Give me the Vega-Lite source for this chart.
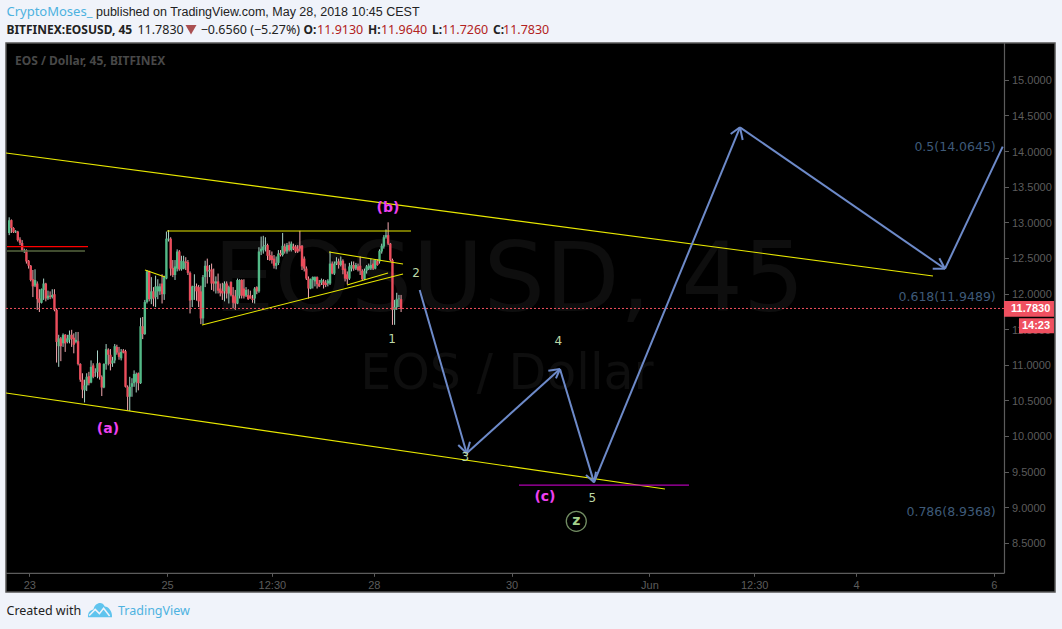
{"$schema":"https://vega.github.io/schema/vega-lite/v6.json","width":1049,"height":549,"autosize":"none","padding":{"left":6,"top":43,"right":7,"bottom":37},"background":"#f0f3fa","view":{"fill":"#000000","stroke":"#555555","strokeWidth":1.5},
"datasets":{"candles":[
{"d":22.708,"o":12.85,"h":13.07,"l":12.82,"c":13.03},{"d":22.74,"o":13.03,"h":13.04,"l":12.85,"c":12.92},{"d":22.771,"o":12.92,"h":12.93,"l":12.85,"c":12.86},{"d":22.802,"o":12.86,"h":12.89,"l":12.85,"c":12.87},{"d":22.833,"o":12.87,"h":12.88,"l":12.73,"c":12.75},{"d":22.865,"o":12.76,"h":12.79,"l":12.68,"c":12.71},{"d":22.896,"o":12.71,"h":12.75,"l":12.59,"c":12.6},{"d":22.927,"o":12.6,"h":12.63,"l":12.57,"c":12.61},{"d":22.958,"o":12.61,"h":12.62,"l":12.42,"c":12.45},{"d":22.99,"o":12.46,"h":12.47,"l":12.35,"c":12.39},
{"d":23.021,"o":12.39,"h":12.4,"l":12.17,"c":12.19},{"d":23.052,"o":12.2,"h":12.33,"l":11.95,"c":12.1},{"d":23.083,"o":12.11,"h":12.34,"l":12.09,"c":12.19},{"d":23.115,"o":12.14,"h":12.17,"l":11.77,"c":11.92},{"d":23.146,"o":11.93,"h":12.06,"l":11.74,"c":11.87},{"d":23.177,"o":11.87,"h":12.07,"l":11.86,"c":12.06},{"d":23.208,"o":12.05,"h":12.21,"l":11.91,"c":12.14},{"d":23.24,"o":12.14,"h":12.15,"l":11.89,"c":11.93},{"d":23.271,"o":11.93,"h":12.04,"l":11.91,"c":11.97},{"d":23.302,"o":11.97,"h":12.03,"l":11.92,"c":11.95},{"d":23.333,"o":11.95,"h":12.06,"l":11.93,"c":11.98},{"d":23.365,"o":11.99,"h":12.06,"l":11.75,"c":11.77},{"d":23.396,"o":11.77,"h":11.79,"l":11.03,"c":11.32},{"d":23.427,"o":11.26,"h":11.42,"l":10.97,"c":11.37},{"d":23.458,"o":11.37,"h":11.39,"l":11.05,"c":11.26},{"d":23.49,"o":11.3,"h":11.44,"l":11.25,"c":11.42},{"d":23.521,"o":11.42,"h":11.43,"l":11.18,"c":11.3},{"d":23.552,"o":11.32,"h":11.42,"l":11.3,"c":11.37},{"d":23.583,"o":11.35,"h":11.48,"l":11.3,"c":11.42},{"d":23.615,"o":11.42,"h":11.49,"l":11.25,"c":11.36},{"d":23.646,"o":11.38,"h":11.44,"l":11.16,"c":11.28},{"d":23.677,"o":11.32,"h":11.46,"l":11.3,"c":11.35},{"d":23.708,"o":11.33,"h":11.46,"l":10.99,"c":11.01},{"d":23.74,"o":11.01,"h":11.02,"l":10.76,"c":10.79},{"d":23.771,"o":10.79,"h":10.88,"l":10.53,"c":10.65},{"d":23.802,"o":10.64,"h":10.79,"l":10.47,"c":10.71},{"d":23.833,"o":10.71,"h":10.88,"l":10.63,"c":10.83},{"d":23.865,"o":10.84,"h":10.9,"l":10.71,"c":10.74},{"d":23.896,"o":10.75,"h":11.06,"l":10.74,"c":10.97},{"d":23.927,"o":10.99,"h":11.02,"l":10.81,"c":10.83},{"d":23.958,"o":10.89,"h":10.95,"l":10.83,"c":10.9},{"d":23.99,"o":10.9,"h":11.2,"l":10.81,"c":11.02},
{"d":24.021,"o":11.02,"h":11.03,"l":10.79,"c":10.83},{"d":24.052,"o":10.83,"h":10.85,"l":10.56,"c":10.68},{"d":24.083,"o":10.68,"h":11.02,"l":10.67,"c":11.01},{"d":24.115,"o":11.01,"h":11.29,"l":10.93,"c":11.22},{"d":24.146,"o":11.21,"h":11.23,"l":10.99,"c":11.14},{"d":24.177,"o":11.14,"h":11.22,"l":10.92,"c":11.01},{"d":24.208,"o":11.02,"h":11.11,"l":10.97,"c":11.06},{"d":24.24,"o":11.06,"h":11.29,"l":11.02,"c":11.26},{"d":24.271,"o":11.25,"h":11.28,"l":11.14,"c":11.17},{"d":24.302,"o":11.17,"h":11.25,"l":11.07,"c":11.11},{"d":24.333,"o":11.09,"h":11.22,"l":11.06,"c":11.18},{"d":24.365,"o":11.2,"h":11.22,"l":11.16,"c":11.17},{"d":24.396,"o":11.19,"h":11.21,"l":10.68,"c":10.69},{"d":24.427,"o":10.69,"h":10.71,"l":10.36,"c":10.55},{"d":24.458,"o":10.55,"h":10.83,"l":10.35,"c":10.69},{"d":24.49,"o":10.69,"h":10.81,"l":10.55,"c":10.74},{"d":24.521,"o":10.74,"h":10.92,"l":10.69,"c":10.87},{"d":24.552,"o":10.76,"h":10.89,"l":10.61,"c":10.87},{"d":24.583,"o":10.88,"h":10.89,"l":10.64,"c":10.74},{"d":24.615,"o":10.74,"h":11.66,"l":10.73,"c":11.54},{"d":24.646,"o":11.54,"h":11.67,"l":11.36,"c":11.43},{"d":24.677,"o":11.43,"h":11.91,"l":11.42,"c":11.88},{"d":24.708,"o":11.88,"h":12.33,"l":11.86,"c":12.31},{"d":24.74,"o":12.31,"h":12.32,"l":11.89,"c":11.92},{"d":24.771,"o":11.92,"h":12.23,"l":11.85,"c":12.03},{"d":24.802,"o":12.03,"h":12.09,"l":11.82,"c":11.93},{"d":24.833,"o":11.95,"h":12.25,"l":11.81,"c":12.1},{"d":24.865,"o":12.03,"h":12.2,"l":11.92,"c":12.1},{"d":24.896,"o":12.03,"h":12.14,"l":11.98,"c":12.1},{"d":24.927,"o":12.14,"h":12.27,"l":11.86,"c":11.99},{"d":24.958,"o":11.99,"h":12.25,"l":11.91,"c":12.23},{"d":24.99,"o":12.21,"h":12.87,"l":12.2,"c":12.77},
{"d":25.021,"o":12.76,"h":12.89,"l":12.73,"c":12.77},{"d":25.052,"o":12.77,"h":12.79,"l":12.25,"c":12.35},{"d":25.083,"o":12.36,"h":12.47,"l":12.23,"c":12.26},{"d":25.115,"o":12.26,"h":12.47,"l":12.19,"c":12.38},{"d":25.146,"o":12.35,"h":12.62,"l":12.31,"c":12.59},{"d":25.177,"o":12.59,"h":12.61,"l":12.32,"c":12.34},{"d":25.208,"o":12.34,"h":12.53,"l":12.32,"c":12.46},{"d":25.24,"o":12.35,"h":12.53,"l":12.34,"c":12.45},{"d":25.271,"o":12.45,"h":12.51,"l":12.33,"c":12.43},{"d":25.302,"o":12.44,"h":12.47,"l":12.26,"c":12.29},{"d":25.333,"o":12.29,"h":12.31,"l":11.72,"c":11.9},{"d":25.365,"o":11.91,"h":12.11,"l":11.81,"c":12.1},{"d":25.396,"o":12.09,"h":12.27,"l":11.91,"c":12.1},{"d":25.427,"o":12.1,"h":12.14,"l":11.9,"c":12.03},{"d":25.458,"o":12.09,"h":12.12,"l":11.81,"c":11.89},{"d":25.49,"o":12.03,"h":12.11,"l":11.57,"c":11.65},{"d":25.521,"o":11.65,"h":12.26,"l":11.57,"c":12.23},{"d":25.552,"o":12.23,"h":12.46,"l":12.09,"c":12.39},{"d":25.583,"o":12.39,"h":12.49,"l":12.14,"c":12.31},{"d":25.615,"o":12.31,"h":12.4,"l":12.23,"c":12.33},{"d":25.646,"o":12.34,"h":12.42,"l":12.05,"c":12.14},{"d":25.677,"o":12.17,"h":12.35,"l":12.03,"c":12.14},{"d":25.708,"o":12.14,"h":12.24,"l":12.0,"c":12.17},{"d":25.74,"o":12.17,"h":12.28,"l":12.0,"c":12.04},{"d":25.771,"o":12.07,"h":12.14,"l":11.96,"c":12.01},{"d":25.802,"o":12.04,"h":12.15,"l":11.91,"c":12.0},{"d":25.833,"o":12.03,"h":12.17,"l":11.89,"c":12.14},{"d":25.865,"o":12.14,"h":12.17,"l":11.93,"c":12.0},{"d":25.896,"o":12.0,"h":12.11,"l":11.86,"c":12.09},{"d":25.927,"o":12.16,"h":12.17,"l":11.96,"c":11.98},{"d":25.958,"o":11.98,"h":12.09,"l":11.79,"c":11.87},{"d":25.99,"o":11.96,"h":12.05,"l":11.77,"c":11.86},
{"d":26.021,"o":11.86,"h":12.21,"l":11.85,"c":12.19},{"d":26.052,"o":11.97,"h":12.2,"l":11.93,"c":12.19},{"d":26.083,"o":12.19,"h":12.2,"l":11.93,"c":11.97},{"d":26.115,"o":12.07,"h":12.2,"l":11.93,"c":11.96},{"d":26.146,"o":11.97,"h":12.09,"l":11.95,"c":12.05},{"d":26.177,"o":11.98,"h":12.06,"l":11.91,"c":11.92},{"d":26.208,"o":11.97,"h":12.04,"l":11.93,"c":11.93},{"d":26.24,"o":11.93,"h":11.98,"l":11.87,"c":11.91},{"d":26.271,"o":11.93,"h":12.09,"l":11.86,"c":12.07},{"d":26.302,"o":12.09,"h":12.1,"l":11.99,"c":12.03},{"d":26.333,"o":12.03,"h":12.65,"l":12.01,"c":12.59},{"d":26.365,"o":12.59,"h":12.8,"l":12.54,"c":12.63},{"d":26.396,"o":12.61,"h":12.81,"l":12.56,"c":12.66},{"d":26.427,"o":12.66,"h":12.79,"l":12.59,"c":12.68},{"d":26.458,"o":12.68,"h":12.7,"l":12.47,"c":12.53},{"d":26.49,"o":12.54,"h":12.61,"l":12.46,"c":12.47},{"d":26.521,"o":12.53,"h":12.59,"l":12.42,"c":12.47},{"d":26.552,"o":12.49,"h":12.54,"l":12.35,"c":12.39},{"d":26.583,"o":12.39,"h":12.52,"l":12.34,"c":12.43},{"d":26.615,"o":12.43,"h":12.61,"l":12.4,"c":12.56},{"d":26.646,"o":12.57,"h":12.61,"l":12.52,"c":12.54},{"d":26.677,"o":12.54,"h":12.85,"l":12.52,"c":12.67},{"d":26.708,"o":12.66,"h":12.7,"l":12.56,"c":12.59},{"d":26.74,"o":12.59,"h":12.71,"l":12.56,"c":12.68},{"d":26.771,"o":12.68,"h":12.73,"l":12.59,"c":12.61},{"d":26.802,"o":12.61,"h":12.73,"l":12.59,"c":12.7},{"d":26.833,"o":12.66,"h":12.7,"l":12.61,"c":12.63},{"d":26.865,"o":12.66,"h":12.68,"l":12.57,"c":12.59},{"d":26.896,"o":12.63,"h":12.68,"l":12.57,"c":12.59},{"d":26.927,"o":12.67,"h":12.88,"l":12.59,"c":12.63},{"d":26.958,"o":12.67,"h":12.68,"l":12.33,"c":12.38},{"d":26.99,"o":12.49,"h":12.52,"l":12.31,"c":12.35},
{"d":27.021,"o":12.35,"h":12.38,"l":12.19,"c":12.21},{"d":27.052,"o":12.21,"h":12.24,"l":11.93,"c":12.07},{"d":27.083,"o":12.07,"h":12.21,"l":12.06,"c":12.2},{"d":27.115,"o":12.19,"h":12.24,"l":12.07,"c":12.23},{"d":27.146,"o":12.17,"h":12.24,"l":12.1,"c":12.23},{"d":27.177,"o":12.23,"h":12.24,"l":12.07,"c":12.13},{"d":27.208,"o":12.14,"h":12.19,"l":12.09,"c":12.1},{"d":27.24,"o":12.15,"h":12.21,"l":12.12,"c":12.19},{"d":27.271,"o":12.17,"h":12.2,"l":12.07,"c":12.12},{"d":27.302,"o":12.15,"h":12.19,"l":12.09,"c":12.12},{"d":27.333,"o":12.14,"h":12.2,"l":12.1,"c":12.18},{"d":27.365,"o":12.14,"h":12.59,"l":12.12,"c":12.42},{"d":27.396,"o":12.42,"h":12.45,"l":12.27,"c":12.28},{"d":27.427,"o":12.28,"h":12.45,"l":12.26,"c":12.42},{"d":27.458,"o":12.42,"h":12.51,"l":12.4,"c":12.45},{"d":27.49,"o":12.45,"h":12.49,"l":12.35,"c":12.4},{"d":27.521,"o":12.4,"h":12.52,"l":12.38,"c":12.46},{"d":27.552,"o":12.46,"h":12.48,"l":12.27,"c":12.33},{"d":27.583,"o":12.35,"h":12.42,"l":12.17,"c":12.21},{"d":27.615,"o":12.27,"h":12.31,"l":12.13,"c":12.2},{"d":27.646,"o":12.21,"h":12.43,"l":12.19,"c":12.38},{"d":27.677,"o":12.35,"h":12.45,"l":12.31,"c":12.4},{"d":27.708,"o":12.4,"h":12.45,"l":12.32,"c":12.35},{"d":27.74,"o":12.35,"h":12.43,"l":12.33,"c":12.4},{"d":27.771,"o":12.38,"h":12.42,"l":12.31,"c":12.33},{"d":27.802,"o":12.39,"h":12.52,"l":12.26,"c":12.32},{"d":27.833,"o":12.32,"h":12.34,"l":12.19,"c":12.2},{"d":27.865,"o":12.2,"h":12.35,"l":12.19,"c":12.32},{"d":27.896,"o":12.32,"h":12.4,"l":12.28,"c":12.38},{"d":27.927,"o":12.35,"h":12.42,"l":12.33,"c":12.39},{"d":27.958,"o":12.35,"h":12.49,"l":12.33,"c":12.4},{"d":27.99,"o":12.42,"h":12.47,"l":12.33,"c":12.35},
{"d":28.021,"o":12.35,"h":12.48,"l":12.34,"c":12.47},{"d":28.052,"o":12.46,"h":12.48,"l":12.39,"c":12.4},{"d":28.083,"o":12.45,"h":12.62,"l":12.42,"c":12.6},{"d":28.115,"o":12.59,"h":12.7,"l":12.56,"c":12.67},{"d":28.146,"o":12.66,"h":12.82,"l":12.63,"c":12.79},{"d":28.177,"o":12.79,"h":12.9,"l":12.77,"c":12.82},{"d":28.208,"o":12.82,"h":13.0,"l":12.68,"c":12.7},{"d":28.24,"o":12.7,"h":12.71,"l":12.45,"c":12.47},{"d":28.271,"o":12.47,"h":12.49,"l":11.56,"c":11.77},{"d":28.302,"o":11.77,"h":11.91,"l":11.56,"c":11.81},{"d":28.333,"o":11.81,"h":12.01,"l":11.77,"c":11.92},{"d":28.365,"o":11.92,"h":11.98,"l":11.81,"c":11.93},{"d":28.396,"o":11.92,"h":11.98,"l":11.74,"c":11.783}
]},
"layer":[
{"data":{"values":[{"d":29.962,"p":12.162,"s":"EOSUSD, 45"}]},"mark":{"type":"text","font":"DejaVu Sans","fontSize":97,"color":"#0e0e0e","align":"center","baseline":"middle"},"encoding":{"x":{"field":"d","type":"quantitative","scale":{"domain":[22.6618,37.887],"nice":false,"zero":false,"padding":0},"axis":{"title":null,"orient":"bottom","offset":-18.7,"domain":false,"grid":false,"values":[23,25,26.5208,28,30,32,33.5208,35,37],"labelExpr":"datum.value==26.5208||datum.value==33.5208?'12:30':datum.value==32?'Jun':datum.value==35?'4':datum.value==37?'6':''+datum.value","labelColor":"#5c5c5c","labelFont":"Liberation Sans","labelFontSize":11,"tickColor":"#5c5c5c","tickSize":3,"labelPadding":3,"labelFlush":false,"labelOverlap":false}},"y":{"field":"p","type":"quantitative","scale":{"domain":[7.808,15.518],"nice":false,"zero":false},"axis":{"title":null,"orient":"right","offset":-50.5,"domain":false,"grid":false,"values":[8.5,9,9.5,10,10.5,11,11.5,12,12.5,13,13.5,14,14.5,15],"format":".4f","labelColor":"#5c5c5c","labelFont":"Liberation Sans","labelFontSize":11,"labelOffset":1,"tickColor":"#5c5c5c","tickSize":4,"labelPadding":3,"labelFlush":false,"labelOverlap":false}},"text":{"field":"s"}}},
{"data":{"values":[{"d":29.933,"p":10.876,"s":"EOS / Dollar"}]},"mark":{"type":"text","font":"DejaVu Sans","fontSize":49,"color":"#0e0e0e","align":"center","baseline":"middle"},"encoding":{"x":{"field":"d","type":"quantitative"},"y":{"field":"p","type":"quantitative"},"text":{"field":"s"}}},
{"data":{"values":[{"d":22.792,"p":15.272,"s":"EOS / Dollar, 45, BITFINEX"}]},"mark":{"type":"text","font":"Noto Sans","fontSize":12,"fontWeight":"bold","color":"#484848","align":"left","baseline":"middle"},"encoding":{"x":{"field":"d","type":"quantitative"},"y":{"field":"p","type":"quantitative"},"text":{"field":"s"}}},
{"data":{"name":"candles"},"mark":{"type":"rule","strokeWidth":1},"encoding":{"x":{"field":"d","type":"quantitative"},"y":{"field":"l","type":"quantitative"},"y2":{"field":"h"},"color":{"condition":{"test":"datum.c>=datum.o","value":"#a9d4c8"},"value":"#f4a9b0"}}},
{"data":{"name":"candles"},"mark":{"type":"bar","size":2.4,"orient":"vertical"},"encoding":{"x":{"field":"d","type":"quantitative"},"y":{"field":"o","type":"quantitative"},"y2":{"field":"c"},"color":{"condition":{"test":"datum.c>=datum.o","value":"#53b987"},"value":"#eb4d5c"}}},
{"data":{"values":[{"d":37.154,"p":15.518,"d2":37.154,"p2":8.07},{"d":22.662,"p":8.07,"d2":37.154,"p2":8.07}]},"mark":{"type":"rule","color":"#5c5c5c","strokeWidth":1.2},"encoding":{"x":{"field":"d","type":"quantitative"},"x2":{"field":"d2"},"y":{"field":"p","type":"quantitative"},"y2":{"field":"p2"}}},
{"data":{"values":[{"d":22.662,"p":11.79,"d2":37.154,"p2":11.79}]},"mark":{"type":"rule","color":"#f0505f","strokeWidth":1,"strokeDash":[2,2]},"encoding":{"x":{"field":"d","type":"quantitative"},"x2":{"field":"d2"},"y":{"field":"p","type":"quantitative"},"y2":{"field":"p2"}}},
{"data":{"values":[{"d":22.676,"p":12.657,"d2":23.852,"p2":12.657}]},"mark":{"type":"rule","color":"#ff0000","strokeWidth":1.3},"encoding":{"x":{"field":"d","type":"quantitative"},"x2":{"field":"d2"},"y":{"field":"p","type":"quantitative"},"y2":{"field":"p2"}}},
{"data":{"values":[{"d":22.676,"p":12.597,"d2":23.808,"p2":12.597}]},"mark":{"type":"rule","color":"#56663f","strokeWidth":1.5},"encoding":{"x":{"field":"d","type":"quantitative"},"x2":{"field":"d2"},"y":{"field":"p","type":"quantitative"},"y2":{"field":"p2"}}},
{"data":{"values":[{"d":22.662,"p":13.973,"d2":36.116,"p2":12.246},{"d":22.662,"p":10.603,"d2":32.226,"p2":9.254},{"d":24.999,"p":12.878,"d2":28.54,"p2":12.878},{"d":24.679,"p":12.33,"d2":24.97,"p2":12.232},{"d":25.507,"p":11.558,"d2":28.424,"p2":12.274},{"d":27.35,"p":12.583,"d2":28.424,"p2":12.414},{"d":27.611,"p":12.119,"d2":28.206,"p2":12.288}]},"mark":{"type":"rule","color":"#e8e800","strokeWidth":1.1},"encoding":{"x":{"field":"d","type":"quantitative"},"x2":{"field":"d2"},"y":{"field":"p","type":"quantitative"},"y2":{"field":"p2"}}},
{"data":{"values":[{"d":30.107,"p":9.31,"d2":32.575,"p2":9.31}]},"mark":{"type":"rule","color":"#b000b0","strokeWidth":1.2},"encoding":{"x":{"field":"d","type":"quantitative"},"x2":{"field":"d2"},"y":{"field":"p","type":"quantitative"},"y2":{"field":"p2"}}},
{"data":{"values":[{"d":28.666,"p":12.049,"d2":29.348,"p2":9.756},{"d":29.226,"p":9.872,"d2":29.348,"p2":9.756},{"d":29.396,"p":9.919,"d2":29.348,"p2":9.756},{"d":29.348,"p":9.756,"d2":30.702,"p2":10.94},{"d":30.533,"p":10.916,"d2":30.702,"p2":10.94},{"d":30.644,"p":10.809,"d2":30.702,"p2":10.94},{"d":30.702,"p":10.94,"d2":31.196,"p2":9.348},{"d":31.08,"p":9.451,"d2":31.196,"p2":9.348},{"d":31.225,"p":9.497,"d2":31.196,"p2":9.348},{"d":31.196,"p":9.348,"d2":33.315,"p2":14.334},{"d":33.18,"p":14.24,"d2":33.315,"p2":14.334},{"d":33.354,"p":14.156,"d2":33.315,"p2":14.334},{"d":33.315,"p":14.334,"d2":36.29,"p2":12.348},{"d":36.112,"p":12.348,"d2":36.29,"p2":12.348},{"d":36.208,"p":12.494,"d2":36.29,"p2":12.348},{"d":36.29,"p":12.348,"d2":37.128,"p2":14.062}]},"mark":{"type":"rule","color":"#6d8ac9","strokeWidth":2},"encoding":{"x":{"field":"d","type":"quantitative"},"x2":{"field":"d2"},"y":{"field":"p","type":"quantitative"},"y2":{"field":"p2"}}},
{"data":{"values":[{"d":24.142,"p":10.097,"s":"(a)"},{"d":28.206,"p":13.201,"s":"(b)"},{"d":30.484,"p":9.142,"s":"(c)"}]},"mark":{"type":"text","font":"DejaVu Sans","fontSize":14,"fontWeight":"bold","color":"#ee40f0","align":"center","baseline":"middle"},"encoding":{"x":{"field":"d","type":"quantitative"},"y":{"field":"p","type":"quantitative"},"text":{"field":"s"}}},
{"data":{"values":[{"d":28.264,"p":11.361,"s":"1"},{"d":28.613,"p":12.284,"s":"2"},{"d":29.328,"p":9.708,"s":"3"},{"d":30.678,"p":11.337,"s":"4"},{"d":31.171,"p":9.124,"s":"5"}]},"mark":{"type":"text","font":"DejaVu Sans","fontSize":12,"color":"#bcd8a6","align":"center","baseline":"middle"},"encoding":{"x":{"field":"d","type":"quantitative"},"y":{"field":"p","type":"quantitative"},"text":{"field":"s"}}},
{"data":{"values":[{"d":30.939,"p":8.801}]},"mark":{"type":"point","shape":"circle","filled":false,"size":400,"stroke":"#a3c98d","strokeWidth":1.3},"encoding":{"x":{"field":"d","type":"quantitative"},"y":{"field":"p","type":"quantitative"}}},
{"data":{"values":[{"d":30.939,"p":8.801,"s":"z"}]},"mark":{"type":"text","font":"DejaVu Sans","fontSize":14,"fontWeight":"bold","color":"#a3d08a","align":"center","baseline":"middle"},"encoding":{"x":{"field":"d","type":"quantitative"},"y":{"field":"p","type":"quantitative"},"text":{"field":"s"}}},
{"data":{"values":[{"d":37.027,"p":14.062,"s":"0.5(14.0645)"},{"d":37.027,"p":11.955,"s":"0.618(11.9489)"},{"d":37.027,"p":8.935,"s":"0.786(8.9368)"}]},"mark":{"type":"text","font":"DejaVu Sans","fontSize":12.5,"color":"#3e5a78","align":"right","baseline":"middle"},"encoding":{"x":{"field":"d","type":"quantitative"},"y":{"field":"p","type":"quantitative"},"text":{"field":"s"}}},
{"data":{"values":[{"d":37.147,"d2":37.872,"p":11.895,"p2":11.674},{"d":37.364,"d2":37.872,"p":11.652,"p2":11.441}]},"mark":{"type":"rect","color":"#ef5060"},"encoding":{"x":{"field":"d","type":"quantitative"},"x2":{"field":"d2"},"y":{"field":"p","type":"quantitative"},"y2":{"field":"p2"}}},
{"data":{"values":[{"d":37.534,"p":11.782,"s":"11.7830"},{"d":37.611,"p":11.539,"s":"14:23"}]},"mark":{"type":"text","font":"Liberation Sans","fontSize":11,"fontWeight":"bold","color":"#ffffff","align":"center","baseline":"middle"},"encoding":{"x":{"field":"d","type":"quantitative"},"y":{"field":"p","type":"quantitative"},"text":{"field":"s"}}},
{"data":{"values":[{"d":22.668,"p":15.947,"s":"CryptoMoses_"}]},"mark":{"type":"text","font":"Noto Sans","fontSize":13,"color":"#4db2e0","align":"left","baseline":"middle"},"encoding":{"x":{"field":"d","type":"quantitative"},"y":{"field":"p","type":"quantitative"},"text":{"field":"s"}}},
{"data":{"values":[{"d":24.287,"p":7.541,"s":"TradingView"}]},"mark":{"type":"text","font":"Noto Sans","fontSize":12.5,"color":"#4db2e0","align":"left","baseline":"middle"},"encoding":{"x":{"field":"d","type":"quantitative"},"y":{"field":"p","type":"quantitative"},"text":{"field":"s"}}},
{"data":{"values":[{"d":23.968,"p":15.947,"s":"published on TradingView.com, May 28, 2018 10:45 CEST"}]},"mark":{"type":"text","font":"Liberation Sans","fontSize":12.5,"color":"#222222","align":"left","baseline":"middle"},"encoding":{"x":{"field":"d","type":"quantitative"},"y":{"field":"p","type":"quantitative"},"text":{"field":"s"}}},
{"data":{"values":[{"d":24.57,"p":15.701,"s":"11.7830"},{"d":25.488,"p":15.701,"s":"−0.6560 (−5.27%)"},{"d":22.669,"p":7.541,"s":"Created with"}]},"mark":{"type":"text","font":"Noto Sans","fontSize":12.5,"color":"#222222","align":"left","baseline":"middle"},"encoding":{"x":{"field":"d","type":"quantitative"},"y":{"field":"p","type":"quantitative"},"text":{"field":"s"}}},
{"data":{"values":[{"d":22.668,"p":15.701,"s":"BITFINEX:EOSUSD, 45"},{"d":26.981,"p":15.701,"s":"O:"},{"d":27.916,"p":15.701,"s":"H:"},{"d":28.845,"p":15.701,"s":"L:"},{"d":29.73,"p":15.701,"s":"C:"}]},"mark":{"type":"text","font":"Noto Sans","fontSize":12,"fontWeight":"bold","color":"#222222","align":"left","baseline":"middle"},"encoding":{"x":{"field":"d","type":"quantitative"},"y":{"field":"p","type":"quantitative"},"text":{"field":"s"}}},
{"data":{"values":[{"d":27.176,"p":15.701,"s":"11.9130"},{"d":28.104,"p":15.701,"s":"11.9640"},{"d":28.99,"p":15.701,"s":"11.7260"},{"d":29.875,"p":15.701,"s":"11.7830"}]},"mark":{"type":"text","font":"Noto Sans","fontSize":12.5,"color":"#b22222","align":"left","baseline":"middle"},"encoding":{"x":{"field":"d","type":"quantitative"},"y":{"field":"p","type":"quantitative"},"text":{"field":"s"}}},
{"data":{"values":[{"d":25.347,"p":15.705}]},"mark":{"type":"point","shape":"triangle-down","filled":true,"size":120,"color":"#8b0a0a"},"encoding":{"x":{"field":"d","type":"quantitative"},"y":{"field":"p","type":"quantitative"}}},
{"data":{"values":[{"d":24.026,"p":7.555}]},"mark":{"type":"point","shape":"M-1,0.6 C-1.05,0.15 -0.75,0 -0.55,-0.05 C-0.4,-0.65 0.2,-0.75 0.4,-0.3 C0.7,-0.3 1.05,0.1 1,0.6 Z","filled":true,"size":576,"color":"#5fc4ee","opacity":1},"encoding":{"x":{"field":"d","type":"quantitative"},"y":{"field":"p","type":"quantitative"}}},
{"data":{"values":[{"d":24.026,"p":7.555}]},"mark":{"type":"point","shape":"M-0.9,0.45 L-0.4,-0.05 L-0.05,0.3 L0.3,-0.15 L0.8,0.5","filled":false,"size":576,"stroke":"#f0f3fa","strokeWidth":1.5,"opacity":1},"encoding":{"x":{"field":"d","type":"quantitative"},"y":{"field":"p","type":"quantitative"}}}
]}
